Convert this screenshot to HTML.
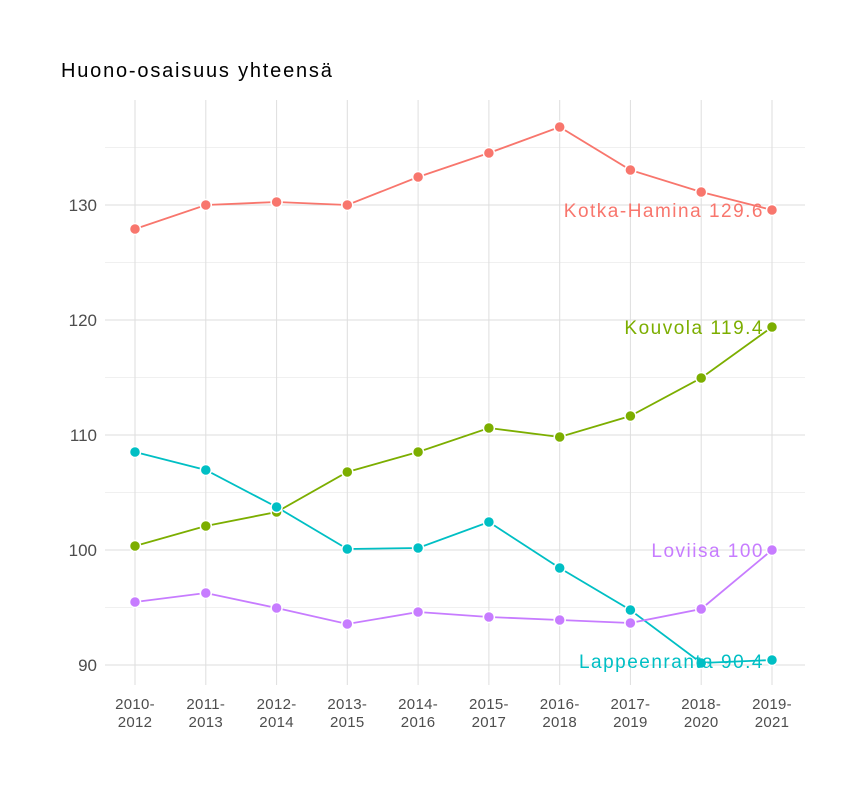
<!DOCTYPE html>
<html><head><meta charset="utf-8"><style>body{margin:0;background:#fff}svg{display:block}</style></head><body>
<svg width="864" height="792" xmlns="http://www.w3.org/2000/svg" font-family="Liberation Sans, sans-serif">
<rect width="864" height="792" fill="#fff"/>
<text x="61" y="77" font-size="20" fill="#000" letter-spacing="1.8">Huono-osaisuus yhteensä</text>
<g stroke="#ebebeb" stroke-width="0.8">
<line x1="105" x2="805" y1="147.5" y2="147.5"/><line x1="105" x2="805" y1="262.5" y2="262.5"/><line x1="105" x2="805" y1="377.5" y2="377.5"/><line x1="105" x2="805" y1="492.5" y2="492.5"/><line x1="105" x2="805" y1="607.5" y2="607.5"/>
</g>
<g stroke="#dedede" stroke-width="1">
<line x1="105" x2="805" y1="205" y2="205"/><line x1="105" x2="805" y1="320" y2="320"/><line x1="105" x2="805" y1="435" y2="435"/><line x1="105" x2="805" y1="550" y2="550"/><line x1="105" x2="805" y1="665" y2="665"/>
<line x1="135" x2="135" y1="100" y2="685"/><line x1="205.8" x2="205.8" y1="100" y2="685"/><line x1="276.6" x2="276.6" y1="100" y2="685"/><line x1="347.3" x2="347.3" y1="100" y2="685"/><line x1="418.1" x2="418.1" y1="100" y2="685"/><line x1="488.9" x2="488.9" y1="100" y2="685"/><line x1="559.7" x2="559.7" y1="100" y2="685"/><line x1="630.4" x2="630.4" y1="100" y2="685"/><line x1="701.2" x2="701.2" y1="100" y2="685"/><line x1="772" x2="772" y1="100" y2="685"/>
</g>
<g font-size="17" fill="#4d4d4d" text-anchor="end">
<text x="97" y="211">130</text><text x="97" y="326">120</text><text x="97" y="441">110</text><text x="97" y="556">100</text><text x="97" y="671">90</text>
</g>
<g font-size="15" fill="#4d4d4d" text-anchor="middle" letter-spacing="0.3">
<text x="135" y="709">2010-</text><text x="135" y="727">2012</text>
<text x="205.8" y="709">2011-</text><text x="205.8" y="727">2013</text>
<text x="276.6" y="709">2012-</text><text x="276.6" y="727">2014</text>
<text x="347.3" y="709">2013-</text><text x="347.3" y="727">2015</text>
<text x="418.1" y="709">2014-</text><text x="418.1" y="727">2016</text>
<text x="488.9" y="709">2015-</text><text x="488.9" y="727">2017</text>
<text x="559.7" y="709">2016-</text><text x="559.7" y="727">2018</text>
<text x="630.4" y="709">2017-</text><text x="630.4" y="727">2019</text>
<text x="701.2" y="709">2018-</text><text x="701.2" y="727">2020</text>
<text x="772" y="709">2019-</text><text x="772" y="727">2021</text>
</g>
<g fill="none" stroke-width="1.8">
<polyline stroke="#F8766D" points="135,229 205.8,205 276.6,202 347.3,205 418.1,177 488.9,153 559.7,127 630.4,170 701.2,192 772,210"/>
<polyline stroke="#7CAE00" points="135,546 205.8,526 276.6,512 347.3,472 418.1,452 488.9,428 559.7,437 630.4,416 701.2,378 772,327"/>
<polyline stroke="#00BFC4" points="135,452 205.8,470 276.6,507 347.3,549 418.1,548 488.9,522 559.7,568 630.4,610 701.2,663 772,660"/>
<polyline stroke="#C77CFF" points="135,602 205.8,593 276.6,608 347.3,624 418.1,612 488.9,617 559.7,620 630.4,623 701.2,609 772,550"/>
</g>
<g stroke="#fff" stroke-width="1.5">
<g fill="#F8766D"><circle cx="135" cy="229" r="5.5"/><circle cx="205.8" cy="205" r="5.5"/><circle cx="276.6" cy="202" r="5.5"/><circle cx="347.3" cy="205" r="5.5"/><circle cx="418.1" cy="177" r="5.5"/><circle cx="488.9" cy="153" r="5.5"/><circle cx="559.7" cy="127" r="5.5"/><circle cx="630.4" cy="170" r="5.5"/><circle cx="701.2" cy="192" r="5.5"/><circle cx="772" cy="210" r="5.5"/></g>
<g fill="#7CAE00"><circle cx="135" cy="546" r="5.5"/><circle cx="205.8" cy="526" r="5.5"/><circle cx="276.6" cy="512" r="5.5"/><circle cx="347.3" cy="472" r="5.5"/><circle cx="418.1" cy="452" r="5.5"/><circle cx="488.9" cy="428" r="5.5"/><circle cx="559.7" cy="437" r="5.5"/><circle cx="630.4" cy="416" r="5.5"/><circle cx="701.2" cy="378" r="5.5"/><circle cx="772" cy="327" r="5.5"/></g>
<g fill="#00BFC4"><circle cx="135" cy="452" r="5.5"/><circle cx="205.8" cy="470" r="5.5"/><circle cx="276.6" cy="507" r="5.5"/><circle cx="347.3" cy="549" r="5.5"/><circle cx="418.1" cy="548" r="5.5"/><circle cx="488.9" cy="522" r="5.5"/><circle cx="559.7" cy="568" r="5.5"/><circle cx="630.4" cy="610" r="5.5"/><circle cx="701.2" cy="663" r="5.5"/><circle cx="772" cy="660" r="5.5"/></g>
<g fill="#C77CFF"><circle cx="135" cy="602" r="5.5"/><circle cx="205.8" cy="593" r="5.5"/><circle cx="276.6" cy="608" r="5.5"/><circle cx="347.3" cy="624" r="5.5"/><circle cx="418.1" cy="612" r="5.5"/><circle cx="488.9" cy="617" r="5.5"/><circle cx="559.7" cy="620" r="5.5"/><circle cx="630.4" cy="623" r="5.5"/><circle cx="701.2" cy="609" r="5.5"/><circle cx="772" cy="550" r="5.5"/></g>
</g>
<g font-size="19" text-anchor="end" letter-spacing="1.5">
<text x="764" y="217" fill="#F8766D">Kotka-Hamina 129.6</text>
<text x="764" y="334" fill="#7CAE00">Kouvola 119.4</text>
<text x="764" y="557" fill="#C77CFF">Loviisa 100</text>
<text x="764" y="668" fill="#00BFC4">Lappeenranta 90.4</text>
</g>
</svg>
</body></html>
